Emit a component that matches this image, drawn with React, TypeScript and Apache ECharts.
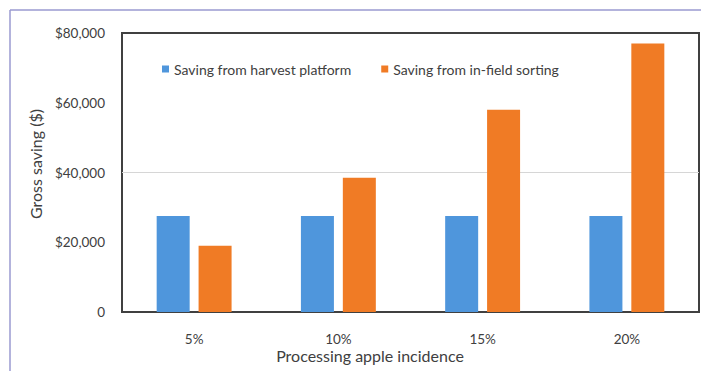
import React, { useEffect, useRef } from "react";
import * as echarts from "echarts";

const categories = ["5%", "10%", "15%", "20%"];
const platformSaving = [27500, 27500, 27500, 27500];
const sortingSaving = [19000, 38500, 58000, 77000];
const seriesNames = ["Saving from harvest platform", "Saving from in-field sorting"];
const yTicks = [0, 20000, 40000, 60000, 80000];

const FONT = "Lato, 'Open Sans', sans-serif";

export default function App() {
  const ref = useRef<HTMLDivElement>(null);
  useEffect(() => {
    if (!ref.current) return;
    const chart = echarts.init(ref.current, undefined, { renderer: "svg" });
    chart.setOption({
      animation: false,
      backgroundColor: "#ffffff",
      textStyle: { fontFamily: FONT },
      grid: {
        left: 122,
        top: 33,
        width: 577,
        height: 279,
        show: true,
        borderColor: "#404040",
        borderWidth: 2,
        backgroundColor: "transparent",
      },
      legend: {
        left: 157,
        top: 57,
        icon: "rect",
        itemWidth: 7,
        itemHeight: 7,
        itemGap: 30,
        textStyle: { fontFamily: FONT, fontSize: 14, color: "#404040" },
        data: seriesNames,
      },
      xAxis: {
        type: "category",
        data: categories,
        axisLine: { show: false },
        axisTick: { show: false },
        axisLabel: { fontFamily: FONT, fontSize: 13.5, color: "#404040", margin: 20 },
      },
      yAxis: {
        type: "value",
        min: yTicks[0],
        max: yTicks[yTicks.length - 1],
        interval: 20000,
        axisLine: { show: false },
        axisTick: { show: false },
        axisLabel: {
          fontFamily: FONT,
          fontSize: 13.5,
          color: "#404040",
          margin: 17,
          formatter: (v: number) => (v === 0 ? "0" : "$" + v.toLocaleString("en-US")),
        },
        splitLine: {
          show: true,
          lineStyle: { color: ["transparent", "transparent", "#d6d6d6", "transparent", "transparent"], width: 1 },
        },
      },
      series: [
        {
          name: seriesNames[0],
          type: "bar",
          data: platformSaving,
          barWidth: 33,
          barGap: "27%",
          itemStyle: { color: "#4f96dc" },
        },
        {
          name: seriesNames[1],
          type: "bar",
          data: sortingSaving,
          barWidth: 33,
          barGap: "27%",
          itemStyle: { color: "#f07b25" },
        },
      ],
      graphic: [
        {
          type: "line",
          shape: { x1: 10, y1: 10, x2: 701, y2: 10 },
          style: { stroke: "#9a9ad0", lineWidth: 1.5 },
        },
        {
          type: "line",
          shape: { x1: 10, y1: 10, x2: 10, y2: 371 },
          style: { stroke: "#9a9ad0", lineWidth: 1.5 },
        },
        {
          type: "text",
          x: 35,
          y: 164,
          rotation: Math.PI / 2,
          style: {
            text: "Gross saving ($)",
            fontFamily: FONT,
            fontSize: 16,
            fill: "#404040",
            align: "center",
            verticalAlign: "middle",
          },
        },
        {
          type: "text",
          x: 370,
          y: 355,
          style: {
            text: "Processing apple incidence",
            fontFamily: FONT,
            fontSize: 16,
            fill: "#404040",
            align: "center",
            verticalAlign: "middle",
          },
        },
      ],
    });
    return () => chart.dispose();
  }, []);
  return (
    <div
      ref={ref}
      style={{ position: "fixed", left: 0, top: 0, width: 701, height: 371 }}
    />
  );
}
